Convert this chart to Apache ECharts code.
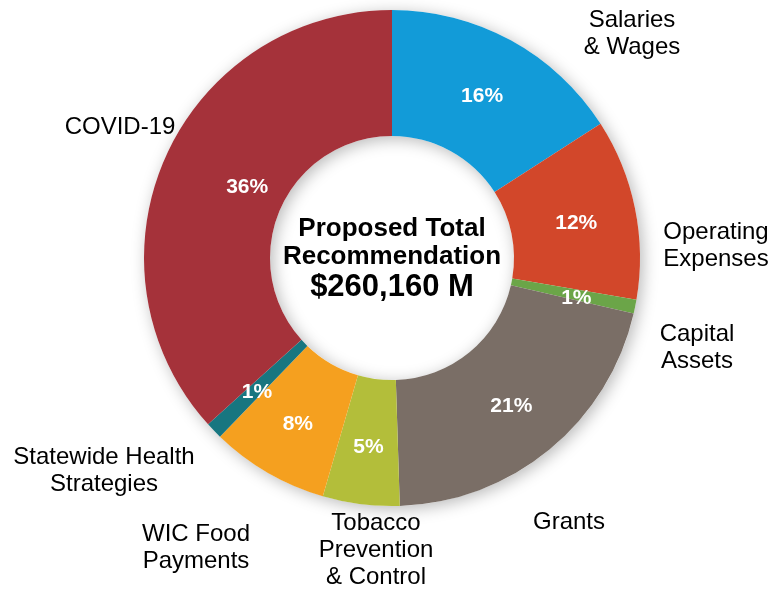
<!DOCTYPE html>
<html>
<head>
<meta charset="utf-8">
<script src="https://cdn.jsdelivr.net/npm/echarts@6/dist/echarts.min.js"></script>
<style>
html,body{margin:0;padding:0;background:#ffffff;}
#chart{width:781px;height:590px;}
</style>
</head>
<body>
<div id="chart"></div>
<script>
// ---- data ----
var categories = ["Salaries\n& Wages", "Operating\nExpenses", "Capital\nAssets", "Grants",
  "Tobacco\nPrevention\n& Control", "WIC Food\nPayments", "Statewide Health\nStrategies", "COVID-19"];
var shares = [15.9, 11.8, 0.9, 20.9, 5.0, 7.7, 1.1, 36.7];
var shareLabels = ["16%", "12%", "1%", "21%", "5%", "8%", "1%", "36%"];
var centerTitle = ["Proposed Total", "Recommendation"];
var centerTotal = "$260,160 M";

// ---- styling / layout ----
var colors = ["#129BD8", "#D2472A", "#6BA548", "#7A6E66", "#B3BE3A", "#F5A01F", "#177680", "#A5323A"];
var CX = 392, CY = 258, R0 = 122, R1 = 248;
// centers of outside name labels
var namePos = [[632, 34], [716, 246], [697, 348], [569, 522], [376, 550], [196, 548], [104, 471], [120, 127]];
var pctShift = {7: [27, 5]};

var chart = echarts.init(document.getElementById('chart'), null, {renderer: 'canvas'});
var pieData = categories.map(function (c, i) {
  return {name: c, value: shares[i], itemStyle: {color: colors[i]}};
});

chart.setOption({
  animation: false,
  backgroundColor: '#ffffff',
  series: [
    {
      type: 'pie', silent: true, z: 1,
      center: [CX, CY], radius: [R0, R1],
      data: [{value: 1}],
      label: {show: false}, labelLine: {show: false},
      itemStyle: {color: '#ffffff', shadowBlur: 16, shadowColor: 'rgba(0,0,0,0.28)', shadowOffsetX: 3, shadowOffsetY: 3}
    },
    {
      type: 'pie', silent: true, z: 2,
      center: [CX, CY], radius: [R0, R1],
      startAngle: 90, clockwise: true,
      data: pieData,
      itemStyle: {borderWidth: 0},
      label: {
        show: true, position: 'inside',
        formatter: function (p) { return shareLabels[p.dataIndex]; },
        color: '#ffffff', fontFamily: 'Liberation Sans, Arial, sans-serif',
        fontWeight: 'bold', fontSize: 21
      },
      labelLine: {show: false},
      labelLayout: function (p) {
        var s = pctShift[p.dataIndex];
        return s ? {dx: s[0], dy: s[1]} : {dy: 3};
      }
    },
    {
      type: 'pie', silent: true, z: 3,
      center: [CX, CY], radius: [R0, R1],
      startAngle: 90, clockwise: true,
      data: pieData.map(function (d) { return {name: d.name, value: d.value, itemStyle: {color: 'rgba(0,0,0,0)'}}; }),
      label: {
        show: true, position: 'outside', overflow: 'none', edgeDistance: 0,
        formatter: '{b}',
        color: '#000000', fontFamily: 'Liberation Sans, Arial, sans-serif',
        fontSize: 24, lineHeight: 27, align: 'center'
      },
      labelLine: {show: false},
      labelLayout: function (p) {
        var q = namePos[p.dataIndex];
        return {x: q[0], y: q[1], align: 'center', verticalAlign: 'middle', hideOverlap: false};
      }
    }
  ],
  graphic: [{
    type: 'text', x: CX, y: CY + 1, z: 10,
    style: {
      text: '{a|' + centerTitle[0] + '}\n{a|' + centerTitle[1] + '}\n{b|' + centerTotal + '}',
      align: 'center', verticalAlign: 'middle',
      fontFamily: 'Liberation Sans, Arial, sans-serif',
      rich: {
        a: {fontSize: 26, fontWeight: 'bold', lineHeight: 28, fill: '#000', align: 'center'},
        b: {fontSize: 31, fontWeight: 'bold', lineHeight: 32, fill: '#000', align: 'center'}
      }
    }
  }]
});
</script>
</body>
</html>
